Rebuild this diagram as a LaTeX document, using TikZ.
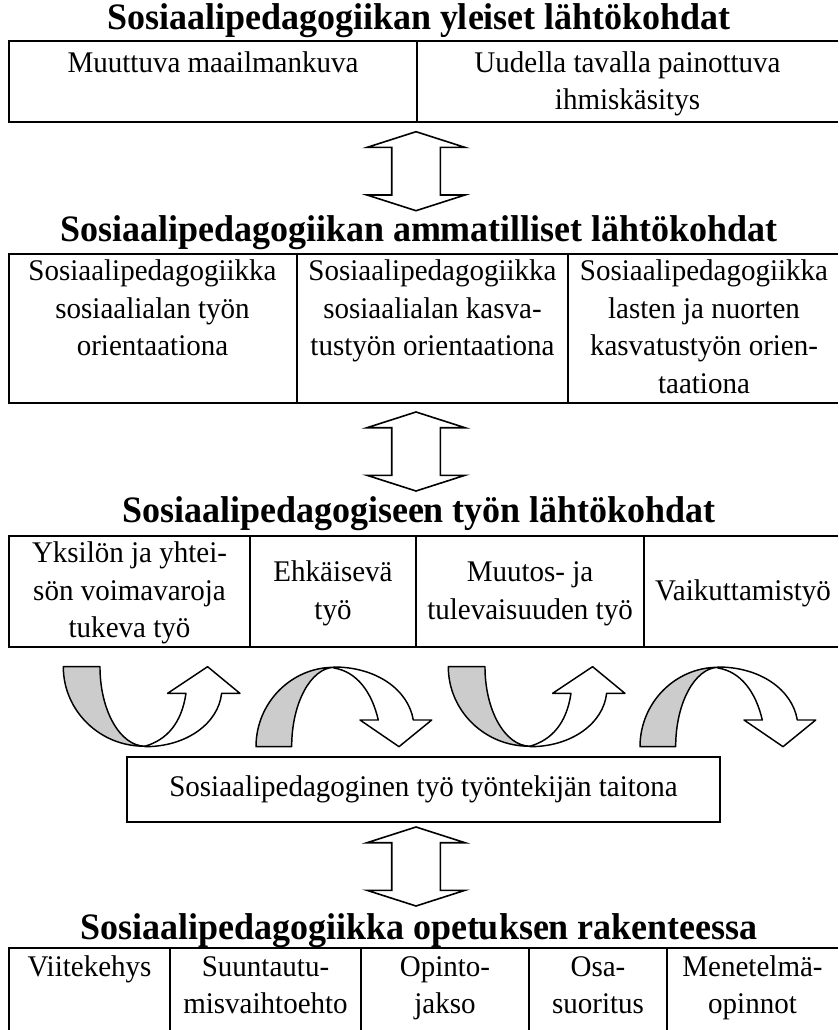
\documentclass[tikz,border=0pt]{standalone}
\usepackage{fontspec}
\setmainfont{Liberation Serif}
\newfontfamily\bodyfont[FakeStretch=0.967]{Liberation Serif}
\newfontfamily\titlefont[FakeStretch=0.964]{Liberation Serif}
\tikzset{
  tline/.style={line width=1.6pt},
  ttl/.style={font=\titlefont\fontsize{28pt}{33pt}\selectfont\bfseries, inner sep=0pt, anchor=base},
  cell/.style={font=\bodyfont\fontsize{22.5pt}{28.1pt}\selectfont, align=center, inner sep=0pt, anchor=base},
  arr/.style={draw, line width=1.2pt, fill=white},
  curv/.style={draw, line width=1.1pt, line join=round},
  backband/.style={curv, fill=black!20},
  frontband/.style={curv, fill=white},
  updown/.pic={\path[arr] (0,0) -- (49,15.7) -- (24.3,15.7) -- (24.3,63.3) -- (49,63.3) -- (0,79) -- (-49,63.3) -- (-24.3,63.3) -- (-24.3,15.7) -- (-49,15.7) -- cycle;},
  cup/.pic={
    \path[backband] (0,0) -- (36.67,0) .. controls (36.67,43.6) and (56.67,79.3) .. (81.67,79.5) .. controls (36.6,80) and (0,44.1) .. (0,0) -- cycle;
    \path[frontband] (81.67,80) .. controls (123.3,80) and (155,56.67) .. (158.3,26.67) -- (176.67,26.67) -- (144.3,0) -- (104.3,26.67) -- (122.67,26.67) .. controls (118.3,56.67) and (103.3,73.3) .. (81.67,79.5) -- cycle;
  },
  cdown/.pic={
    \path[backband] (0,79.67) .. controls (0,36) and (35,0.3) .. (78,0.3) .. controls (54.67,1) and (35.67,36.3) .. (35.67,79.67) -- cycle;
    \path[frontband] (78,0) .. controls (120.7,0) and (152.3,23) .. (157.3,53) -- (175.7,53) -- (143,79.67) -- (104,53) -- (122.3,53) .. controls (115.7,24.7) and (100.7,4.7) .. (78,1) -- cycle;
  }
}
\begin{document}
\begin{tikzpicture}[x=0.75pt,y=-0.75pt]
\useasboundingbox[fill=white] (0,0) rectangle (838,1030);

% ---------- block 1
\node[ttl] (t1) at (419,30) {Sosiaalipedagogiikan yleiset lähtökohdat};
\draw[tline] (838,41) -- (9,41) -- (9,122) -- (838,122);
\draw[tline] (417,41) -- (417,122);
\node[cell] (a1) at (213,72.5) {Muuttuva maailmankuva};
\node[cell] (a2) at (627.5,110) {Uudella tavalla painottuva\\ihmiskäsitys};

\pic (d1) at (416,131.7) {updown};

% ---------- block 2
\node[ttl] (t2) at (419,242) {Sosiaalipedagogiikan ammatilliset lähtökohdat};
\draw[tline] (838,254) -- (9,254) -- (9,403) -- (838,403);
\draw[tline] (297,254) -- (297,403);
\draw[tline] (568,254) -- (568,403);
\node[cell] (b1) at (152.5,355.5) {Sosiaalipedagogiikka\\sosiaalialan työn\\orientaationa};
\node[cell] (b2) at (432.5,355.5) {Sosiaalipedagogiikka\\sosiaalialan kasva-\\tustyön orientaationa};
\node[cell] (b3) at (704,393) {Sosiaalipedagogiikka\\lasten ja nuorten\\kasvatustyön orien-\\taationa};

\pic (d2) at (416,412) {updown};

% ---------- block 3
\node[ttl] (t3) at (419,522) {Sosiaalipedagogiseen työn lähtökohdat};
\draw[tline] (838,536) -- (9,536) -- (9,647) -- (838,647);
\draw[tline] (250,536) -- (250,647);
\draw[tline] (416,536) -- (416,647);
\draw[tline] (644,536) -- (644,647);
\node[cell] (c1) at (129.5,637.5) {Yksilön ja yhtei-\\sön voimavaroja\\tukeva työ};
\node[cell] (c2) at (333,619) {Ehkäisevä\\työ};
\node[cell] (c3) at (530,619) {Muutos- ja\\tulevaisuuden työ};
\node[cell] (c4) at (743,600) {Vaikuttamistyö};

\pic (k1) at (63.3,666.7) {cup};
\pic (k2) at (256,667) {cdown};
\pic (k3) at (448.3,666.7) {cup};
\pic (k4) at (640,667) {cdown};

\node[draw, line width=1.2pt, minimum width=593*0.75pt, minimum height=65*0.75pt, inner sep=0pt,
      font=\bodyfont\fontsize{22.5pt}{28.1pt}\selectfont] (box) at (423.5,789.5) {Sosiaalipedagoginen työ työntekijän taitona};

\pic (d3) at (416,827) {updown};

% ---------- block 4
\node[ttl] (t4) at (419,939) {Sosiaalipedagogiikka opetuksen rakenteessa};
\draw[tline] (838,948) -- (9,948) -- (9,1031);
\draw[tline] (170,948) -- (170,1031);
\draw[tline] (361,948) -- (361,1031);
\draw[tline] (529,948) -- (529,1031);
\draw[tline] (667,948) -- (667,1031);
\node[cell] (e1) at (89.5,976) {Viitekehys};
\node[cell] (e2) at (265.5,1013.5) {Suuntautu-\\misvaihtoehto};
\node[cell] (e3) at (445,1013.5) {Opinto-\\jakso};
\node[cell] (e4) at (598,1013.5) {Osa-\\suoritus};
\node[cell] (e5) at (752.5,1013.5) {Menetelmä-\\opinnot};
\end{tikzpicture}
\end{document}
